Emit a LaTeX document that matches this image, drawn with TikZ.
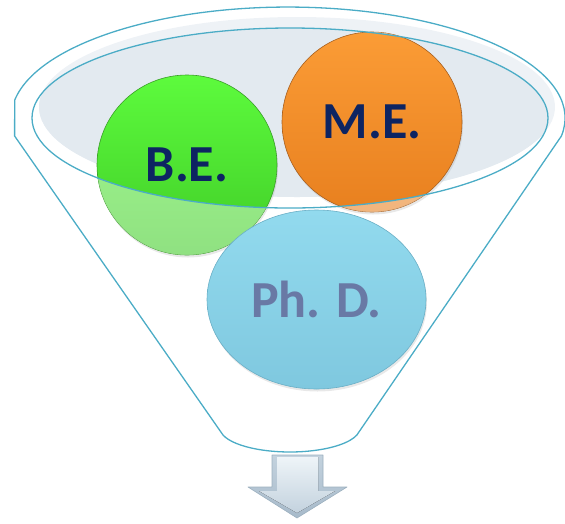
\documentclass[tikz,border=0pt]{standalone}
\usepackage{fontspec}
\setmainfont{Carlito}
\usetikzlibrary{shapes.geometric,shadows}
\definecolor{rim}{HTML}{4BACC6}
\definecolor{bowl}{HTML}{E3EAF0}
\definecolor{bowlB}{HTML}{EEF2F6}
\definecolor{beT}{HTML}{5DFB3D}
\definecolor{beD}{HTML}{40CC27}
\definecolor{beB}{HTML}{3A9F28}
\definecolor{meT}{HTML}{FB9C36}
\definecolor{meD}{HTML}{E8801F}
\definecolor{meB}{HTML}{A8601F}
\definecolor{phT}{HTML}{92DAEE}
\definecolor{phD}{HTML}{7FC8DF}
\definecolor{phB}{HTML}{6AAFC6}
\definecolor{navy}{HTML}{0D2462}
\definecolor{slate}{HTML}{6979A5}
\definecolor{arrT}{HTML}{EEF4F8}
\definecolor{arrD}{HTML}{C3D2DE}
\definecolor{arrE}{HTML}{A7BACA}
\definecolor{arrB}{HTML}{9CB0BF}

\begin{document}
\begin{tikzpicture}[x=1pt, y=-1pt,
    every node/.style={font=\fontsize{52}{60}\selectfont\bfseries, text=navy},
    rimline/.style={draw=rim, line width=1.3pt},
    bubble/.style={inner sep=0pt, line width=0.6pt,
                   drop shadow={opacity=0.18, shadow xshift=1pt, shadow yshift=-2.5pt}},
    bebox/.style={bubble, circle, minimum size=180pt, draw=beB, top color=beT, bottom color=beD},
    mebox/.style={bubble, circle, minimum size=180pt, draw=meB, top color=meT, bottom color=meD},
    phdbox/.style={bubble, ellipse, minimum width=219pt, minimum height=179pt,
                   draw=phB, top color=phT, bottom color=phD, text=slate},
  ]
  \useasboundingbox (0,0) rectangle (565,523);

  % funnel outline
  \draw[rimline] (14.6,136) -- (223,435)
        arc[start angle=163, end angle=17, x radius=70, y radius=24]
        -- (561.4,136)
        arc[start angle=9.3, end angle=-170.7, x radius=277, y radius=111] -- cycle;

  % the inside of the bowl
  \fill[bowlB] (297,107) ellipse [x radius=258, y radius=90];
  \begin{scope}
    \clip (297,107) ellipse [x radius=258, y radius=90];
    \fill[bowl] (290,118) ellipse [x radius=258, y radius=90];
  \end{scope}

  % the three degrees
  \node[mebox] (me) at (372,122) {M.E.};
  \node[bebox] (be) at (187,165) {B.E.};

  % front of the funnel washes the balls out
  \begin{scope}[even odd rule]
    \clip (0,0) rectangle (565,523) (290,118) ellipse [x radius=258, y radius=90];
    \fill[white, opacity=0.42] (be.center) circle (90);
    \fill[white, opacity=0.42] (me.center) circle (90);
  \end{scope}

  \node[phdbox] (phd) at (316.5,299.5) {Ph. D.};

  % rim of the bowl
  \draw[rimline] (290,118) ellipse [x radius=258, y radius=90];

  % arrow out of the spout, with a bevelled face
  \draw[top color=arrD, bottom color=arrE, draw=arrB, line width=0.6pt, line join=round]
        (272,455) -- (323,455) -- (323,487) -- (347,487) -- (297,518)
        -- (248,487) -- (272,487) -- cycle;
  \fill[top color=arrT, bottom color=arrD]
        (277,457) -- (318,457) -- (318,491) -- (335,491) -- (297,513)
        -- (259,491) -- (277,491) -- cycle;
\end{tikzpicture}
\end{document}
